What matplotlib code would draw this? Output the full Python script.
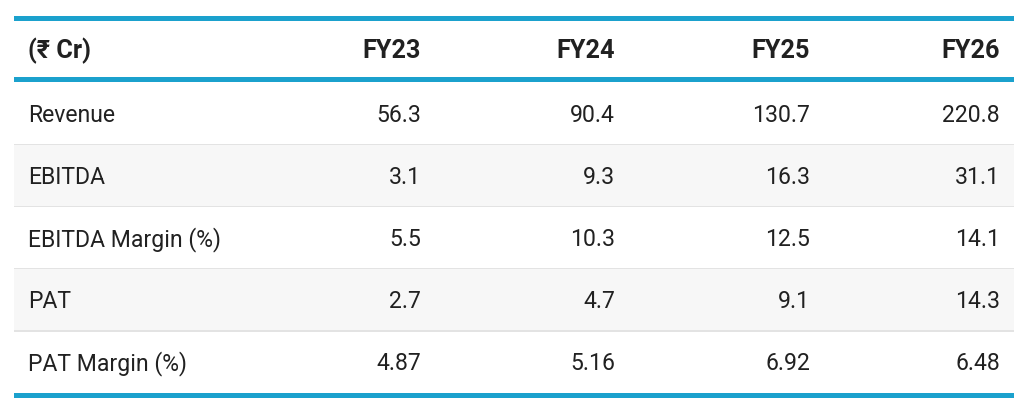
import matplotlib
matplotlib.use("Agg")
import matplotlib.pyplot as plt
from matplotlib.patches import Rectangle

# ===========================================
# DATA
# ===========================================

header_label = "(₹ Cr)"
years = ["FY23", "FY24", "FY25", "FY26"]
metrics = ["Revenue", "EBITDA", "EBITDA Margin (%)", "PAT", "PAT Margin (%)"]
revenue = ["56.3", "90.4", "130.7", "220.8"]
ebitda = ["3.1", "9.3", "16.3", "31.1"]
ebitda_margin = ["5.5", "10.3", "12.5", "14.1"]
pat = ["2.7", "4.7", "9.1", "14.3"]
pat_margin = ["4.87", "5.16", "6.92", "6.48"]
rows = [revenue, ebitda, ebitda_margin, pat, pat_margin]

# ===========================================
# STYLE / LAYOUT (pixels)
# ===========================================

W, H = 1024, 404
LEFT, RIGHT = 14, 1014
TOP_LINE = (16, 21)
HEAD_LINE = (77, 82)
ROW_H = (393 - 82) / 5
BLUE = "#1ba1cd"
TEXT = "#212121"
STRIPE = "#f7f7f7"
SEP = "#e3e3e3"
FONT = ["Roboto", "DejaVu Sans"]
FS = 16.6
HEAD_FS = 18.2
COL_RIGHT = [421, 615, 810, 1000]
LABEL_X = 28

fig = plt.figure(figsize=(W / 100, H / 100), dpi=100)
ax = fig.add_axes([0, 0, 1, 1])
ax.set_xlim(0, W)
ax.set_ylim(H, 0)
ax.axis("off")


def band(y0, y1, color):
    ax.add_patch(Rectangle((LEFT, y0), RIGHT - LEFT, y1 - y0,
                           facecolor=color, edgecolor="none", linewidth=0))


# row backgrounds and separators
for i in range(len(metrics)):
    y0 = HEAD_LINE[1] + i * ROW_H
    if i % 2 == 1:
        band(y0, y0 + ROW_H, STRIPE)
    if i > 0:
        band(y0 - 0.5, y0 + 0.8, SEP)

# blue rules
band(*TOP_LINE, BLUE)
band(*HEAD_LINE, BLUE)
band(393, 398, BLUE)

# header
head_base = (TOP_LINE[1] + HEAD_LINE[0]) / 2 + 9.5
ax.text(LABEL_X, head_base, header_label, ha="left", va="baseline",
        fontsize=HEAD_FS, fontweight="bold", color=TEXT, family=FONT)
for x, yr in zip(COL_RIGHT, years):
    ax.text(x, head_base, yr, ha="right", va="baseline",
            fontsize=HEAD_FS, fontweight="bold", color=TEXT, family=FONT)

# body
for i, (name, vals) in enumerate(zip(metrics, rows)):
    base = HEAD_LINE[1] + (i + 0.5) * ROW_H + 8.5
    ax.text(LABEL_X, base, name, ha="left", va="baseline",
            fontsize=FS, color=TEXT, family=FONT)
    for x, v in zip(COL_RIGHT, vals):
        ax.text(x, base, v, ha="right", va="baseline",
                fontsize=FS, color=TEXT, family=FONT)

fig.savefig("out.png", dpi=100, facecolor="white")
